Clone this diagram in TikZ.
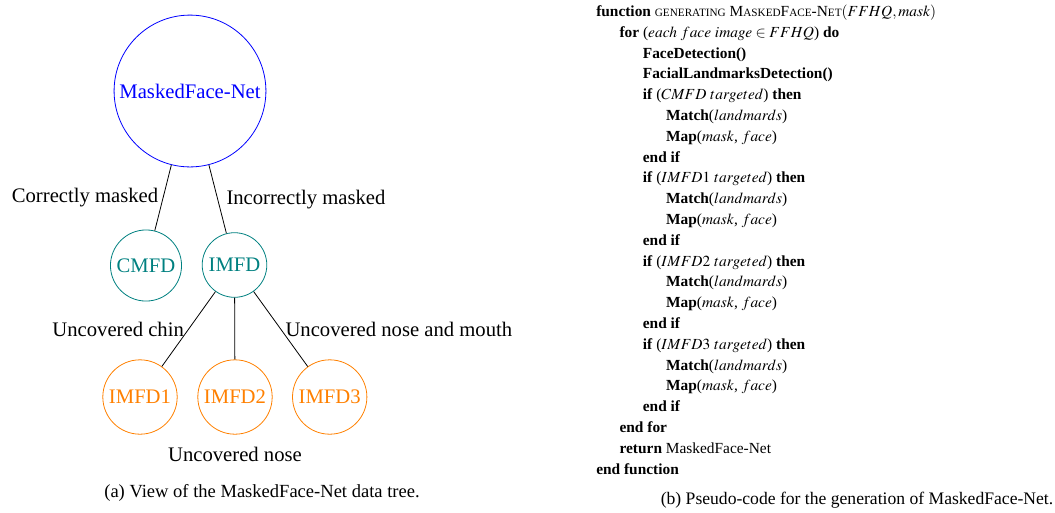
\documentclass[tikz,border=0pt]{standalone}
\usepackage{mathptmx}
\usepackage{fontspec}
\setmainfont{Liberation Serif}
\usepackage{xcolor}
\usetikzlibrary{positioning}

\newcommand{\kw}[1]{\textbf{#1}}
\newcommand{\fsc}[1]{{\fontsize{8.4}{10}\selectfont #1}}

\begin{document}
\begin{tikzpicture}[x=0.75pt,y=-0.75pt,
    treefont/.style={font=\fontsize{15.5}{18}\selectfont},
    topnode/.style={circle,draw=blue,text=blue,line width=0.6pt,treefont},
    midnode/.style={circle,draw=teal,text=teal,line width=0.6pt,treefont},
    leafnode/.style={circle,draw=orange,text=orange,line width=0.6pt,treefont},
    edgelabel/.style={treefont,text=black},
    codeline/.style={anchor=base west,inner sep=0pt,font=\fontsize{11.55}{15.6}\selectfont}]
        \useasboundingbox (0,0) rectangle (1055,512);

        % data tree
        \node[topnode] (net) at (190,91) {MaskedFace-Net};
        \node[midnode] (cmfd) at (146,265.5) {CMFD};
        \node[midnode] (imfd) at (234.5,265) {IMFD};
        \node[leafnode] (imfd1) at (140,397) {IMFD1};
        \node[leafnode] (imfd2) at (235,397) {IMFD2};
        \node[leafnode] (imfd3) at (329.7,397) {IMFD3};

        \draw[line width=0.6pt] (net) -- node[edgelabel,left] (lcor) {Correctly masked} (cmfd);
        \draw[line width=0.6pt] (net) -- node[edgelabel,right,xshift=3pt] (linc) {Incorrectly masked} (imfd);
        \draw[line width=0.6pt] (imfd) -- node[edgelabel,left] (lchin) {Uncovered chin} (imfd1);
        \draw[line width=0.6pt] (imfd) -- (imfd2);
        \draw[line width=0.6pt] (imfd) -- node[edgelabel,right] (lnm) {Uncovered nose and mouth} (imfd3);
        \node[edgelabel,below=6pt of imfd2] (lnose) {Uncovered nose};

        \node[font=\fontsize{13.9}{16}\selectfont] (capa) at (262,493) {(a) View of the MaskedFace-Net data tree.};

        % pseudo-code
        \foreach \lv/\txt [count=\i from 0] in {
            0/{\kw{function} \fsc{GENERATING} M\fsc{ASKED}F\fsc{ACE}-N\fsc{ET}$(FFHQ,mask)$},
            1/{\kw{for} ($each\ face\ image \in FFHQ$) \kw{do}},
            2/{\kw{FaceDetection()}},
            2/{\kw{FacialLandmarksDetection()}},
            2/{\kw{if} ($CMFD\ targeted$) \kw{then}},
            3/{\kw{Match}($landmards$)},
            3/{\kw{Map}($mask$, $face$)},
            2/{\kw{end if}},
            2/{\kw{if} ($IMFD1\ targeted$) \kw{then}},
            3/{\kw{Match}($landmards$)},
            3/{\kw{Map}($mask$, $face$)},
            2/{\kw{end if}},
            2/{\kw{if} ($IMFD2\ targeted$) \kw{then}},
            3/{\kw{Match}($landmards$)},
            3/{\kw{Map}($mask$, $face$)},
            2/{\kw{end if}},
            2/{\kw{if} ($IMFD3\ targeted$) \kw{then}},
            3/{\kw{Match}($landmards$)},
            3/{\kw{Map}($mask$, $face$)},
            2/{\kw{end if}},
            1/{\kw{end for}},
            1/{\kw{return} MaskedFace-Net},
            0/{\kw{end function}}}
            \node[codeline] (code\i) at ({596+23.3*\lv},{16.5+20.8*\i}) {\txt};

        \node[font=\fontsize{13.2}{16}\selectfont] (capb) at (857,500) {(b) Pseudo-code for the generation of MaskedFace-Net.};
\end{tikzpicture}
\end{document}
